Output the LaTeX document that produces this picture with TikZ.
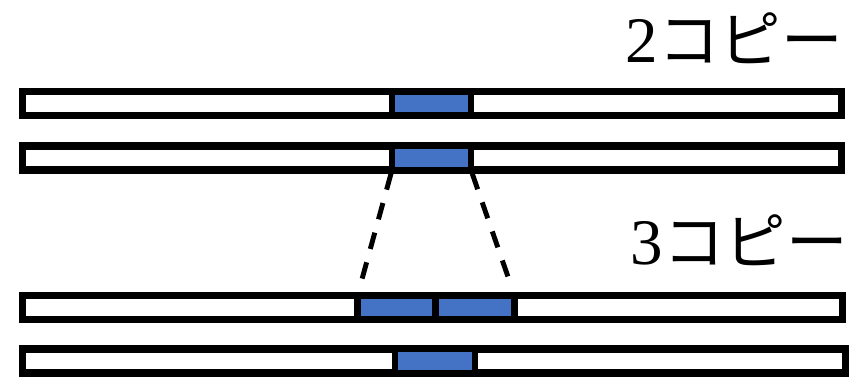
\documentclass[tikz,border=0pt]{standalone}
\usepackage{fontspec}
\setmainfont{Liberation Serif}
\newfontfamily\jpfont{Noto Sans CJK JP}
\definecolor{segblue}{HTML}{4472C4}
\tikzset{
  chrom/.style={draw, line width=4pt, minimum height=0.48cm, inner sep=0pt, outer sep=0pt, anchor=west},
  seg/.style={draw, fill=segblue, line width=3.6pt, minimum height=0.48cm, inner sep=0pt, outer sep=0pt},
  zoomline/.style={line width=2.8pt, dash pattern=on 9.6pt off 7.9pt, shorten <=2pt, shorten >=7.5pt},
  copylabel/.style={inner sep=0pt, anchor=base east, font=\fontsize{37}{40}\selectfont}
}
\begin{document}
\begin{tikzpicture}[x=0.02cm, y=-0.02cm]
	\useasboundingbox (0,0) rectangle (856,378);
	\foreach \i / \y / \w in {1/103.5/16.38, 2/158/16.38, 3/307.5/16.40, 4/361/16.46} {
		\node[chrom, minimum width=\w cm] (chr\i) at (22.5,\y) {};
	}
	\foreach \n / \x / \y / \w in {a/431.5/103.5/1.58, b/431.5/158/1.58, c/396.5/307.5/1.56, d/475/307.5/1.58, e/435/361/1.60} {
		\node[seg, minimum width=\w cm] (seg\n) at (\x,\y) {};
	}
	\draw[zoomline] (segb.south west) -- (segc.north west);
	\draw[zoomline] (segb.south east) -- (segd.north east);
	\node[copylabel] (two) at (843,63) {2{\jpfont\fontsize{35}{40}\selectfont コピー}};
	\node[copylabel] (three) at (848,265) {3{\jpfont\fontsize{35}{40}\selectfont コピー}};
\end{tikzpicture}
\end{document}
